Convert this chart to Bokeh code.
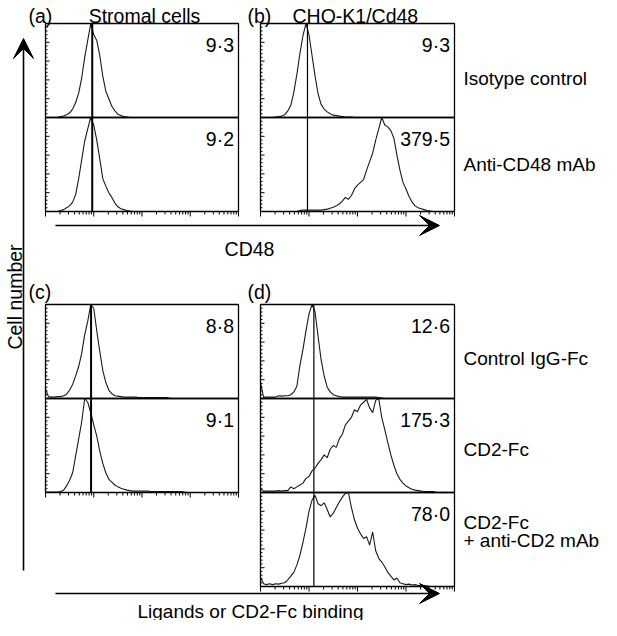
import math
from bokeh.plotting import figure
from bokeh.models import Range1d, LogScale, Label, Arrow, VeeHead
from bokeh.embed import file_html
from bokeh.resources import INLINE

# ------------------------------------------------------------------ data
DECADES = 4
CHANNELS_PER_DECADE = 16
# log-spaced fluorescence channel centres, 10^0 .. 10^4
channel_values = [10 ** (k / CHANNELS_PER_DECADE) for k in range(DECADES * CHANNELS_PER_DECADE + 1)]

# cell counts (percent of the modal channel)
stromal_isotype = [
    0, 0, 0, 0, 0, 1, 1.5, 3,
    5, 9, 16, 26, 42, 64, 82, 100,
    88, 82, 66, 44, 28, 20, 12, 7,
    3.5, 2, 1, 0.5, 0, 0, 0, 0,
    0, 0, 0, 0, 0, 0, 0, 0,
    0, 0, 0, 0, 0, 0, 0, 0,
    0, 0, 0, 0, 0, 0, 0, 0,
    0, 0, 0, 0, 0, 0, 0, 0,
    0]
stromal_anti_cd48 = [
    0, 0, 0, 0, 0, 1, 2, 4,
    6, 10, 18, 35, 55, 75, 88, 100,
    92, 76, 56, 35, 27, 20, 15, 9,
    5, 3, 2, 1, 0.5, 0, 0, 0,
    0, 0, 0, 0, 0, 0, 0, 0,
    0, 0, 0, 0, 0, 0, 0, 0,
    0, 0, 0, 0, 0, 0, 0, 0,
    0, 0, 0, 0, 0, 0, 0, 0,
    0]
cho_isotype = [
    0, 0, 0, 0, 0, 0.5, 1, 1.5,
    3, 7, 13, 27, 46, 68, 87, 100,
    88, 66, 44, 25, 14, 9, 6, 4,
    2.5, 2, 1.5, 1, 0.5, 0.5, 0.5, 0,
    0, 0, 0, 0, 0, 0, 0, 0,
    0, 0, 0, 0, 0, 0, 0, 0,
    0, 0, 0, 0, 0, 0, 0, 0,
    0, 0, 0, 0, 0, 0, 0, 0,
    0]
cho_anti_cd48 = [
    0, 0, 0, 0, 0, 0, 0, 0,
    0, 0, 0, 0, 0, 1, 1.5, 1.5,
    1.5, 1.5, 1.5, 1.5, 1.5, 2, 2.5, 3.5,
    4.5, 6, 8, 11, 15, 13, 17, 24,
    28, 31, 34, 44, 53, 62, 76, 88,
    100, 92, 90, 86, 78, 60, 44, 31,
    24, 16, 10, 6, 4, 3, 2, 1,
    0.5, 0, 0, 0, 0, 0, 0, 0,
    0]
stromal_control_fc = [
    10, 2, 1.5, 1.5, 2, 2, 3, 4.5,
    9, 15, 24, 34, 48, 68, 82, 100,
    96, 72, 50, 30, 17, 9, 5, 3,
    2.5, 2, 1.5, 1.5, 1.5, 1.5, 1.5, 1,
    1, 1, 1, 1, 1, 1, 1, 1,
    1, 0.5, 0, 0, 0, 0, 0, 0,
    0, 0, 0, 0, 0, 0, 0, 0,
    0, 0, 0, 0, 0, 0, 0, 0,
    0]
stromal_cd2_fc = [
    0.5, 0.5, 0.5, 0.5, 0.5, 1, 2.5, 7,
    13, 21, 39, 57, 75, 100, 96, 85,
    72, 60, 44, 31, 21, 14, 11, 8,
    6, 4.5, 3.5, 2.5, 2, 1.5, 1.5, 1.5,
    1.5, 1.5, 1.5, 1, 1, 1, 1, 1,
    1, 1, 1, 1, 1, 1, 0.5, 0,
    0, 0, 0, 0, 0, 0, 0, 0,
    0, 0, 0, 0, 0, 0, 0, 0,
    0]
cho_control_fc = [
    17, 1.5, 1.5, 1.5, 1.5, 1.5, 3, 2.5,
    3, 3, 4, 7, 13, 35, 52, 72,
    90, 100, 92, 66, 41, 24, 12, 7,
    4, 3, 2, 1.5, 1.5, 1.5, 1.5, 1.5,
    1.5, 1.5, 1.5, 1.5, 1.5, 1.5, 1.5, 1,
    0.5, 0, 0, 0, 0, 0, 0, 0,
    0, 0, 0, 0, 0, 0, 0, 0,
    0, 0, 0, 0, 0, 0, 0, 0,
    0]
cho_cd2_fc = [
    4, 1.5, 1.5, 1.5, 1.5, 1.5, 2, 1.5,
    2, 2, 6, 4, 6, 8, 10, 15,
    17, 23, 26, 31, 35, 40, 37, 46,
    50, 48, 57, 62, 72, 76, 80, 88,
    86, 93, 96, 99, 90, 85, 98, 100,
    80, 67, 53, 40, 29, 20, 14, 10,
    7, 5, 3.5, 2.5, 2, 1.5, 1, 1,
    1, 1, 0, 0, 0, 0, 0, 0,
    0]
cho_cd2_fc_anti_cd2 = [
    10, 3, 2, 3, 2, 3, 2.5, 3.5,
    4, 7, 11, 15, 23, 33, 47, 62,
    80, 92, 97, 88, 86, 89, 82, 74,
    78, 84, 90, 95, 99, 100, 84, 71,
    62, 56, 51, 53, 44, 58, 38, 30,
    26, 21, 15, 11, 7, 9, 4, 3,
    2, 2.5, 1.5, 2, 1, 1.5, 1, 0.5,
    0, 0, 0, 0, 0, 0, 0, 0,
    0]

panel_letters = ["(a)", "(b)", "(c)", "(d)"]
column_titles = ["Stromal cells", "CHO-K1/Cd48"]
top_row_labels = ["Isotype control", "Anti-CD48 mAb"]
bottom_row_labels = ["Control IgG-Fc", "CD2-Fc", "CD2-Fc", "+ anti-CD2 mAb"]
mean_fluorescence_labels = {
    "a": ["9·3", "9·2"],
    "b": ["9·3", "379·5"],
    "c": ["8·8", "9·1"],
    "d": ["12·6", "175·3", "78·0"],
}
control_means = {"a": 9.3, "b": 9.3, "c": 8.8, "d": 12.6}
y_axis_title = "Cell number"
x_axis_title_top = "CD48"
x_axis_title_bottom = "Ligands or CD2-Fc binding"

# ------------------------------------------------------------------ layout
W, H = 601, 620
MARGIN = 8
FONT = "Liberation Sans"
FSIZE = "19.5px"
FSIZE_SIDE = "19px"


def cx(X):
    return X - MARGIN


def cy(Y):
    return H - (Y - MARGIN)


ROW_H = 94
COLS = {"left": (53, 246), "right": (268, 462)}
panels = [
    ("a", "left", 31, [stromal_isotype, stromal_anti_cd48], 2.0),
    ("b", "right", 31, [cho_isotype, cho_anti_cd48], 1.2),
    ("c", "left", 312, [stromal_control_fc, stromal_cd2_fc], 2.0),
    ("d", "right", 312, [cho_control_fc, cho_cd2_fc, cho_cd2_fc_anti_cd2], 1.2),
]

x_ranges, x_scales, y_ranges = {}, {}, {}
for name, (L, R) in COLS.items():
    d = DECADES / (R - L)
    x_ranges[name] = Range1d(start=10 ** (-cx(L) * d), end=10 ** (DECADES + (W - cx(R)) * d))
    x_scales[name] = LogScale()

s = 100.0 / ROW_H
for key, col, T, series, _ in panels:
    for i in range(len(series)):
        Yb = T + (i + 1) * ROW_H
        y_ranges[f"{key}{i}"] = Range1d(start=-cy(Yb) * s, end=(H - cy(Yb)) * s)

p = figure(width=W, height=H, output_backend="svg", toolbar_location=None,
           x_range=Range1d(0, W), y_range=Range1d(0, H),
           x_axis_location=None, y_axis_location=None,
           min_border=0, outline_line_color=None,
           background_fill_color="white", border_fill_color="white")
p.xgrid.visible = False
p.ygrid.visible = False
p.extra_x_ranges = x_ranges
p.extra_x_scales = x_scales
p.extra_y_ranges = y_ranges

major_ticks = [10 ** e for e in range(DECADES + 1)]
minor_ticks = [m * 10 ** e for e in range(DECADES) for m in range(2, 10)]
left_ticks_minor = [v for v in range(0, 101, 4) if v % 20 != 0]
left_ticks_major = [v for v in range(0, 101, 20)]

for key, col, T, series, ctrl_w in panels:
    L, R = COLS[col]
    n = len(series)
    for i, values in enumerate(series):
        yn = f"{key}{i}"
        p.line(channel_values, values, x_range_name=col, y_range_name=yn,
               line_color="#1a1a1a", line_width=1.1)
        p.quad(left=channel_values[0], right=channel_values[-1], bottom=0, top=100,
               x_range_name=col, y_range_name=yn,
               fill_color=None, line_color="black", line_width=1.3)
        p.segment(x0=control_means[key], y0=0, x1=control_means[key], y1=100,
                  x_range_name=col, y_range_name=yn, line_color="black", line_width=ctrl_w)
        # inward ticks on the left edge
        p.segment(x0=[cx(L)] * len(left_ticks_minor), y0=left_ticks_minor,
                  x1=[cx(L) + 2] * len(left_ticks_minor), y1=left_ticks_minor,
                  y_range_name=yn, line_color="black", line_width=1)
        p.segment(x0=[cx(L)] * len(left_ticks_major), y0=left_ticks_major,
                  x1=[cx(L) + 4] * len(left_ticks_major), y1=left_ticks_major,
                  y_range_name=yn, line_color="black", line_width=1)
        Yt = T + i * ROW_H
        p.add_layout(Label(x=cx(R) - 4.5, y=cy(Yt + 21), text=mean_fluorescence_labels[key][i],
                           text_align="right", text_baseline="alphabetic",
                           text_font=FONT, text_font_size=FSIZE, text_color="black"))
    # log ticks below the panel
    Yb = T + n * ROW_H
    p.segment(x0=major_ticks, y0=[cy(Yb)] * len(major_ticks), x1=major_ticks,
              y1=[cy(Yb) - 5] * len(major_ticks), x_range_name=col,
              line_color="black", line_width=1)
    p.segment(x0=minor_ticks, y0=[cy(Yb)] * len(minor_ticks), x1=minor_ticks,
              y1=[cy(Yb) - 3] * len(minor_ticks), x_range_name=col,
              line_color="black", line_width=1)


def label(X, Y, text, align="left", angle=0.0, size=FSIZE):
    p.add_layout(Label(x=cx(X), y=cy(Y), text=text, text_align=align,
                       text_baseline="alphabetic", angle=angle,
                       text_font=FONT, text_font_size=size, text_color="black"))


# panel letters and column titles
label(36, 23, panel_letters[0])
label(152, 23, column_titles[0], "center")
label(255, 23, panel_letters[1])
label(300, 23, column_titles[1])
label(36, 299, panel_letters[2])
label(255, 299, panel_letters[3])

# row labels on the right
label(471, 86, top_row_labels[0], size=FSIZE_SIDE)
label(471, 172, top_row_labels[1], size=FSIZE_SIDE)
label(471, 366, bottom_row_labels[0], size=FSIZE_SIDE)
label(471, 457, bottom_row_labels[1], size=FSIZE_SIDE)
label(471, 530, bottom_row_labels[2], size=FSIZE_SIDE)
label(471, 548, bottom_row_labels[3], size=FSIZE_SIDE)

# axis arrows and titles
def arrow(X0, Y0, X1, Y1):
    p.add_layout(Arrow(start=None,
                       end=VeeHead(size=20, fill_color="black", line_color="black", line_width=1),
                       x_start=cx(X0), y_start=cy(Y0), x_end=cx(X1), y_end=cy(Y1),
                       line_color="black", line_width=1.6))


arrow(31, 578, 31, 46)
arrow(63, 233, 447, 233)
arrow(63, 601, 447, 601)
label(22, 304.5, y_axis_title, "center", angle=math.pi / 2)
label(257, 256, x_axis_title_top, "center")
label(258, 619, x_axis_title_bottom, "center", size=FSIZE_SIDE)

open("out.html", "w").write(file_html(p, INLINE))
